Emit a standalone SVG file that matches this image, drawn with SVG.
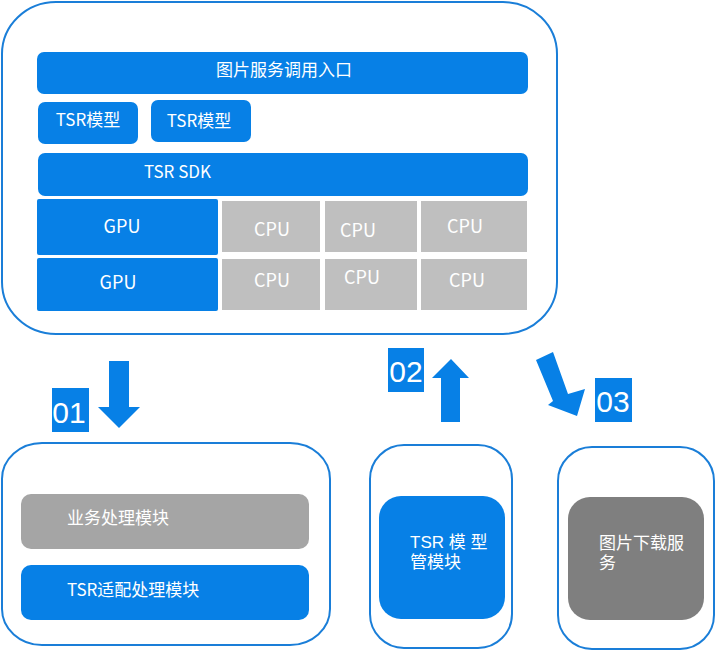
<svg xmlns="http://www.w3.org/2000/svg" width="716" height="651" viewBox="0 0 716 651">
<style>
.frame{fill:#ffffff;stroke:#1a7ed8;stroke-width:2}
.blue{fill:#0780e6}
.cpu{fill:#bfbfbf}
.t{font-family:"Noto Sans CJK SC","Noto Sans",sans-serif;font-size:17px;fill:#ffffff}
.ml{font-family:"Liberation Sans","Noto Sans CJK SC",sans-serif}
.lat{font-size:18px}
.m{text-anchor:middle}
.num{font-family:"Liberation Sans",Arial,sans-serif;font-size:30px;fill:#ffffff;text-anchor:middle}
.arrow{fill:#0780e6}
</style>
<rect width="716" height="651" fill="#ffffff"/>

<g id="main-frame">
<rect class="frame" x="2" y="2" width="555" height="332" rx="54" ry="52"/>
</g>
<g id="entry">
<rect class="blue" x="37" y="52" width="491" height="42" rx="7"/>
<text class="t m" x="284" y="76">图片服务调用入口</text>
</g>
<g id="tsr-model-1">
<rect class="blue" x="38" y="102" width="100" height="42" rx="7"/>
<text class="t m" x="88" y="126">TSR模型</text>
</g>
<g id="tsr-model-2">
<rect class="blue" x="151" y="100" width="100" height="42" rx="7"/>
<text class="t m" x="199" y="127">TSR模型</text>
</g>
<g id="tsr-sdk">
<rect class="blue" x="38" y="153" width="490" height="43" rx="7"/>
<text class="t" x="144" y="178">TSR SDK</text>
</g>
<g id="gpu-1">
<rect class="blue" x="37" y="199" width="181" height="56" rx="2"/>
<text class="t lat m" x="122" y="233">GPU</text>
</g>
<g id="gpu-2">
<rect class="blue" x="37" y="258" width="181" height="53" rx="2"/>
<text class="t lat m" x="118" y="289">GPU</text>
</g>
<g id="cpu-1-1">
<rect class="cpu" x="222" y="201" width="98" height="51"/>
<text class="t lat m" x="272" y="236">CPU</text>
</g>
<g id="cpu-1-2">
<rect class="cpu" x="325" y="201" width="92" height="51"/>
<text class="t lat m" x="358" y="237">CPU</text>
</g>
<g id="cpu-1-3">
<rect class="cpu" x="421" y="201" width="106" height="51"/>
<text class="t lat m" x="465" y="233">CPU</text>
</g>
<g id="cpu-2-1">
<rect class="cpu" x="222" y="259" width="98" height="51"/>
<text class="t lat m" x="272" y="287">CPU</text>
</g>
<g id="cpu-2-2">
<rect class="cpu" x="325" y="259" width="92" height="51"/>
<text class="t lat m" x="362" y="284">CPU</text>
</g>
<g id="cpu-2-3">
<rect class="cpu" x="421" y="259" width="106" height="51"/>
<text class="t lat m" x="467" y="287">CPU</text>
</g>

<g id="connectors">
<polygon class="arrow" points="109,361 129,361 129,407 140,407 119,428 98,407 109,407"/>
<polygon class="arrow" points="441,422 460,422 460,378 469,378 451,359 432,378 441,378"/>
<polygon class="arrow" points="536,360 553,352 568,394 585,389 577,416 548,405 553,401"/>
</g>
<g id="label-01">
<rect class="blue" x="52" y="388" width="37" height="44"/>
<text class="num" x="69" y="423">01</text>
</g>
<g id="label-02">
<rect class="blue" x="388" y="348" width="36" height="44"/>
<text class="num" x="406" y="382">02</text>
</g>
<g id="label-03">
<rect class="blue" x="595" y="378" width="37" height="44"/>
<text class="num" x="613" y="412">03</text>
</g>

<g id="business-frame">
<rect class="frame" x="2" y="443" width="328" height="202" rx="40" ry="36"/>
</g>
<g id="business-module">
<rect x="21" y="494" width="288" height="55" rx="10" fill="#a5a5a5"/>
<text class="t" x="67" y="524">业务处理模块</text>
</g>
<g id="tsr-adapter">
<rect class="blue" x="21" y="565" width="288" height="55" rx="10"/>
<text class="t" x="67" y="596">TSR适配处理模块</text>
</g>

<g id="model-frame">
<rect class="frame" x="370" y="445" width="142" height="203" rx="34" ry="34"/>
</g>
<g id="tsr-model-manager">
<rect class="blue" x="379" y="496" width="126" height="123" rx="22"/>
<text class="t ml"><tspan x="410" y="548">TSR 模 型</tspan><tspan x="410" y="568">管模块</tspan></text>
</g>

<g id="download-frame">
<rect class="frame" x="558" y="447" width="156" height="202" rx="34" ry="34"/>
</g>
<g id="download-service">
<rect x="568" y="497" width="136" height="123" rx="22" fill="#7f7f7f"/>
<text class="t ml"><tspan x="599" y="549">图片下载服</tspan><tspan x="599" y="569">务</tspan></text>
</g>
</svg>
